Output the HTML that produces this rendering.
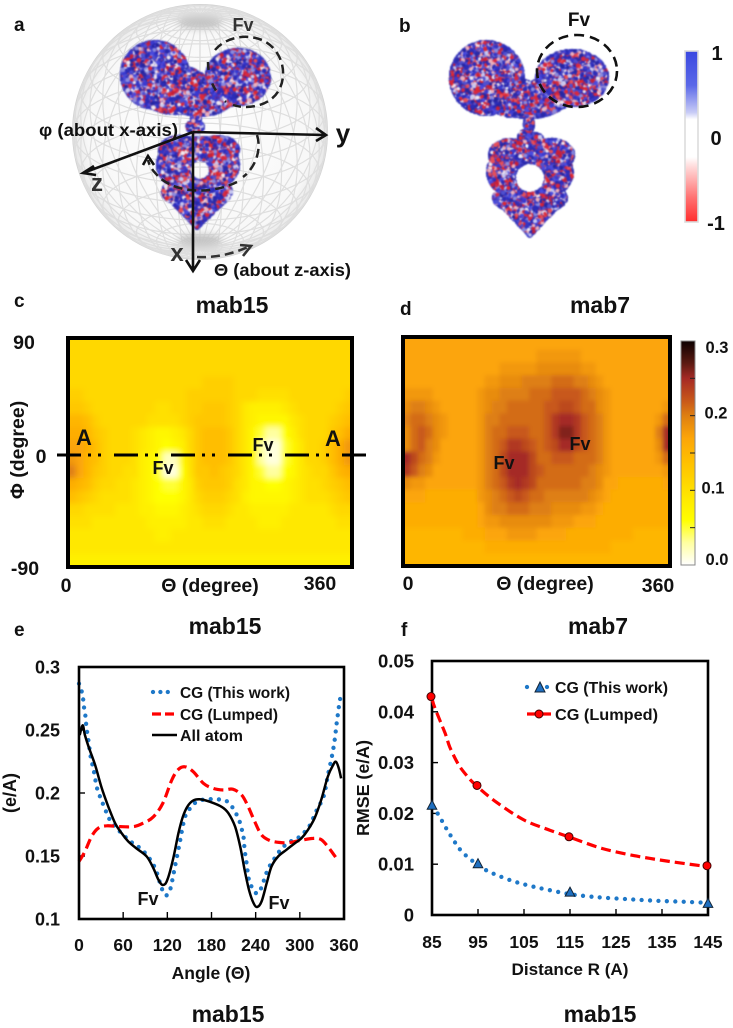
<!DOCTYPE html>
<html lang="en">
<head>
<meta charset="utf-8">
<title>Antibody electrostatics figure</title>
<style>
html,body{margin:0;padding:0;background:#fff;}
#wrap{position:relative;width:733px;height:1028px;overflow:hidden;background:#fff;font-family:"Liberation Sans",sans-serif;}
#wrap svg,#wrap canvas{position:absolute;left:0;top:0;}
#wrap canvas{filter:blur(.5px);}
text{font-family:"Liberation Sans",sans-serif;font-weight:bold;fill:#111;}
.t{font-size:23px;text-anchor:middle;}
.l{font-size:19.5px;}
.m{text-anchor:middle;}
.e{text-anchor:end;}
</style>
</head>
<body>
<div id="wrap">
<svg id="under" width="733" height="1028">
  <defs>
    <radialGradient id="sph" cx="50%" cy="50%" r="50%">
      <stop offset="0%" stop-color="#fdfdfd"/>
      <stop offset="88%" stop-color="#f8f8f8"/>
      <stop offset="100%" stop-color="#e8e8e8"/>
    </radialGradient>
    <filter id="soft" x="-50%" y="-100%" width="200%" height="300%"><feGaussianBlur stdDeviation="3.5"/></filter>
  </defs>
  <circle cx="200" cy="132" r="127" fill="url(#sph)" stroke="#d2d2d2" stroke-width="2"/>
  <g id="sphereGrid" fill="none" stroke="#dedede" stroke-width="1.2"></g>
  <ellipse cx="200" cy="23" rx="22" ry="6" fill="#c4c4c4" filter="url(#soft)"/>
  <ellipse cx="200" cy="240" rx="22" ry="6" fill="#c4c4c4" filter="url(#soft)"/>
</svg>
<canvas id="molA" width="733" height="300"></canvas>
<canvas id="molB" width="733" height="300"></canvas>
<svg id="top" width="733" height="1028">
  <defs>
    <filter id="bc" x="-5%" y="-5%" width="110%" height="110%"><feGaussianBlur stdDeviation="3"/></filter>
    <filter id="bd" x="-5%" y="-5%" width="110%" height="110%"><feGaussianBlur stdDeviation="2"/></filter>
    <clipPath id="clipC"><rect x="68" y="338" width="284" height="229"/></clipPath>
    <clipPath id="clipD"><rect x="403" y="337" width="267" height="229"/></clipPath>
    <linearGradient id="bGrad" x1="0" y1="0" x2="0" y2="1">
      <stop offset="0" stop-color="#3a48e0"/>
      <stop offset=".2" stop-color="#5a68e8"/>
      <stop offset=".36" stop-color="#c8ccf6"/>
      <stop offset=".4" stop-color="#ffffff"/>
      <stop offset=".62" stop-color="#ffffff"/>
      <stop offset=".68" stop-color="#ffd8d8"/>
      <stop offset=".86" stop-color="#ff7070"/>
      <stop offset="1" stop-color="#ff2d2d"/>
    </linearGradient>
    <linearGradient id="dGrad" x1="0" y1="1" x2="0" y2="0"></linearGradient>
  </defs>

  <!-- panel letters -->
  <text x="14" y="31" font-size="19">a</text>
  <text x="399" y="32" font-size="19">b</text>
  <text x="14" y="307" font-size="19">c</text>
  <text x="400" y="315" font-size="19">d</text>
  <text x="14" y="636" font-size="19">e</text>
  <text x="401" y="636" font-size="19">f</text>

  <!-- panel a annotations -->
  <g>
    <path d="M215 50 C225 38 245 33 262 40 C280 48 288 70 280 88 C272 106 248 110 233 105" fill="none" stroke="#222" stroke-width="2.5" stroke-dasharray="9 5"/>
    <path d="M208 62 C208 75 212 90 226 102" fill="none" stroke="#222" stroke-width="2.5" stroke-dasharray="8 14"/>
    <path d="M257 135 C262 150 255 168 243 177 M237 182 C215 193 180 195 160 178 C154 172 150 168 148 160" fill="none" stroke="#222" stroke-width="2.5" stroke-dasharray="9 5"/>
    <path d="M143 165 L148 156 L154 165" fill="none" stroke="#111" stroke-width="2.6"/>
    <path d="M197 257 C215 258 232 254 248 247" fill="none" stroke="#333" stroke-width="2.5" stroke-dasharray="9 5"/>
    <path d="M240 245 L251 246 L243 256" fill="none" stroke="#333" stroke-width="2.6"/>
    <path d="M193 132 L325 135 M316 128 L326 135 L316 141" fill="none" stroke="#111" stroke-width="2.6"/>
    <path d="M193 132 L83 173 M94 166 L83 173 L96 175" fill="none" stroke="#111" stroke-width="2.6"/>
    <path d="M193 132 L193 270 M186 260 L193 271 L200 260" fill="none" stroke="#111" stroke-width="2.6"/>
    <text x="243" y="31" font-size="18" class="m" style="fill:#333">Fv</text>
    <text x="39" y="136" font-size="17.5" textLength="139" lengthAdjust="spacingAndGlyphs">φ (about x-axis)</text>
    <text x="214" y="276" font-size="17.5" textLength="137" lengthAdjust="spacingAndGlyphs">Θ (about z-axis)</text>
    <text x="343" y="142" font-size="26" class="m">y</text>
    <text x="97" y="191" font-size="24" class="m" style="fill:#333">z</text>
    <text x="177" y="261" font-size="24" class="m" style="fill:#333">x</text>
  </g>

  <!-- panel b annotations -->
  <g>
    <ellipse cx="577" cy="71" rx="40" ry="36" fill="none" stroke="#111" stroke-width="2.6" stroke-dasharray="10 6"/>
    <text x="579" y="26" font-size="19" class="m">Fv</text>
    <rect x="685" y="51" width="13" height="171" fill="url(#bGrad)" stroke="#dcdcdc" stroke-width="1.6"/>
    <text x="717" y="60" font-size="20" class="m">1</text>
    <text x="716" y="145" font-size="20" class="m">0</text>
    <text x="716" y="230" font-size="20" class="m">-1</text>
  </g>

  <!-- panel c -->
  <g>
    <text x="232" y="313" class="t">mab15</text>
    <g clip-path="url(#clipC)"><rect x="68" y="338" width="284" height="229" fill="#ffd800"/><g id="cellsC" filter="url(#bc)"></g></g>
    <rect x="68" y="338" width="284" height="229" fill="none" stroke="#000" stroke-width="4"/>
    <line x1="57" y1="455" x2="366" y2="455" stroke="#000" stroke-width="3" stroke-dasharray="24 7 3 7 3 13"/>
    <text x="24" y="349" class="l m">90</text>
    <text x="41" y="463" class="l m">0</text>
    <text x="25" y="575" class="l m">-90</text>
    <text x="66" y="592" class="l m">0</text>
    <text x="320" y="590" class="l m">360</text>
    <text x="210" y="592" class="l m">Θ (degree)</text>
    <text transform="translate(24,450) rotate(-90)" class="l m">Φ (degree)</text>
    <text x="84" y="445" font-size="22" class="m">A</text>
    <text x="333" y="446" font-size="22" class="m">A</text>
    <text x="163" y="474" font-size="18" class="m">Fv</text>
    <text x="263" y="451" font-size="18" class="m">Fv</text>
  </g>

  <!-- panel d -->
  <g>
    <text x="600" y="313" class="t">mab7</text>
    <g clip-path="url(#clipD)"><rect x="403" y="337" width="267" height="229" fill="#fca508"/><g id="cellsD" filter="url(#bd)"></g></g>
    <rect x="403" y="337" width="267" height="229" fill="none" stroke="#000" stroke-width="4"/>
    <text x="408" y="590" class="l m">0</text>
    <text x="658" y="592" class="l m">360</text>
    <text x="545" y="590" class="l m">Θ (degree)</text>
    <text x="504" y="469" font-size="18" class="m">Fv</text>
    <text x="580" y="450" font-size="18" class="m">Fv</text>
    <rect x="681" y="341" width="14" height="224" fill="url(#dGrad)" stroke="#888" stroke-width="1"/>
    <g id="cbarTicks"></g>
  </g>

  <!-- panel e -->
  <g>
    <text x="225" y="634" class="t">mab15</text>
    <g id="plotE"></g>
    <rect x="79" y="667" width="265" height="252" fill="none" stroke="#000" stroke-width="2.6"/>
    <text x="211" y="979" font-size="17.5" class="m">Angle (Θ)</text>
    <text transform="translate(16,793) rotate(-90)" font-size="18" class="m">(e/A)</text>
    <text transform="translate(369,788) rotate(-90)" font-size="17.5" class="m" textLength="96" lengthAdjust="spacingAndGlyphs">RMSE (e/A)</text>
    <g>
      <line x1="153" y1="692" x2="174" y2="692" stroke="#1e78c8" stroke-width="4.3" stroke-linecap="round" stroke-dasharray="0 7.4"/>
      <line x1="152" y1="714" x2="175" y2="714" stroke="#f00" stroke-width="3.2" stroke-dasharray="9 4"/>
      <line x1="152" y1="735" x2="177" y2="735" stroke="#000" stroke-width="2.4"/>
      <text x="180" y="698" font-size="16" textLength="110" lengthAdjust="spacingAndGlyphs">CG (This work)</text>
      <text x="180" y="720" font-size="16" textLength="98" lengthAdjust="spacingAndGlyphs">CG (Lumped)</text>
      <text x="180" y="741" font-size="16" textLength="63" lengthAdjust="spacingAndGlyphs">All atom</text>
    </g>
    <text x="148" y="905" font-size="18" class="m">Fv</text>
    <text x="279" y="909" font-size="18" class="m">Fv</text>
  </g>

  <!-- panel f -->
  <g>
    <text x="598" y="634" class="t">mab7</text>
    <g id="plotF"></g>
    <text x="570" y="975" font-size="17" class="m" textLength="117" lengthAdjust="spacingAndGlyphs">Distance R (A)</text>
    <g>
      <line x1="527" y1="687" x2="550" y2="687" stroke="#1e78c8" stroke-width="4.3" stroke-linecap="round" stroke-dasharray="0 20"/>
      <polygon points="540,682 545,692 535,692" fill="#1f6fc0" stroke="#123" stroke-width="1"/>
      <line x1="527" y1="714" x2="551" y2="714" stroke="#f00" stroke-width="3.2"/>
      <circle cx="539" cy="714" r="4" fill="#f00" stroke="#400" stroke-width="1"/>
      <text x="555" y="693" font-size="16" textLength="113" lengthAdjust="spacingAndGlyphs">CG (This work)</text>
      <text x="555" y="720" font-size="16" textLength="103" lengthAdjust="spacingAndGlyphs">CG (Lumped)</text>
    </g>
  </g>

  <text x="228" y="1022" class="t">mab15</text>
  <text x="600" y="1022" class="t">mab15</text>
</svg>
</div>

<script>
/* ---------- heatmap data (units of 0.01 e/A), rows top to bottom ---------- */
var heatRowsC = [
[11,11,11,11,11,11,11,11,11,11,11,11,11,11,11,11,11,11,11,11,11,11,11,11,11,11,11,11,11,11,11,11,11,11,11,11],
[11,11,11,11,11,11,11,11,11,11,11,11,11,11,11,11,11,11,11,11,11,11,11,11,11,11,11,11,11,11,11,11,11,11,11,11],
[11,11,11,11,11,11,11,11,11,11,11,11,11,11,11,11,11,11,11,11,11,11,11,11,11,11,11,11,11,11,11,11,11,11,11,11],
[11,11,11,11,11,11,11,11,11,11,11,11,11,11,11,11,11,12,12,12,12,11,11,11,11,11,11,11,11,11,11,11,11,11,11,11],
[12,12,11,11,11,11,11,11,11,11,11,11,11,11,11,12,12,12,12,12,12,11,11,11,10,10,10,10,11,11,11,11,11,11,11,12],
[13,13,12,11,11,11,11,11,11,11,11,10,10,11,11,12,12,13,13,13,12,11,9,8,8,8,8,9,10,11,11,11,11,11,12,13],
[15,15,14,12,11,11,11,11,11,11,10,10,10,10,11,12,13,13,13,13,12,11,9,8,7,7,7,7,9,10,11,11,11,12,13,14],
[16,16,15,13,12,11,11,11,10,9,8,7,7,8,9,11,13,14,14,14,13,11,9,7,5,3,3,6,8,10,11,11,11,13,14,16],
[17,17,16,14,12,11,11,11,10,9,8,7,6,7,8,11,13,14,14,14,13,11,9,7,3,1,1,5,7,9,11,11,12,14,16,18],
[18,17,15,14,12,11,11,11,10,8,7,6,2,2,7,10,13,14,14,14,13,11,9,7,3,1,1,5,7,9,11,11,12,14,16,18],
[20,17,15,13,12,11,11,10,10,8,7,5,1,1,6,10,13,13,14,13,12,11,9,7,5,3,3,6,7,9,10,11,11,13,15,16],
[16,15,14,12,11,11,10,10,9,8,7,6,5,5,7,9,12,13,13,13,12,10,9,7,7,6,6,7,8,9,10,10,11,12,13,14],
[14,13,12,11,10,10,10,10,9,8,7,6,6,6,7,9,11,12,12,12,11,10,8,7,7,7,7,7,8,9,10,10,10,11,12,13],
[11,11,10,10,10,10,9,9,9,8,8,7,7,7,8,9,10,11,11,11,10,9,9,8,8,8,8,8,9,9,9,9,9,10,11,11],
[10,10,10,9,9,9,9,9,9,9,8,8,8,8,8,9,9,10,10,10,9,9,9,9,8,8,8,9,9,9,9,9,9,9,10,10],
[9,9,9,9,9,9,9,9,9,9,9,8,8,9,9,9,9,9,9,9,9,9,9,9,9,9,9,9,9,9,9,9,9,9,9,9],
[9,9,9,9,9,9,9,9,9,9,9,9,9,9,9,9,9,9,9,9,9,9,9,9,9,9,9,9,9,9,9,9,9,9,9,9],
[8,8,8,8,8,8,8,8,8,8,8,8,8,8,8,8,8,8,8,8,8,8,8,8,8,8,8,8,8,8,8,8,8,8,8,8]
];
var heatRowsD = [
[17,17,17,17,17,17,17,17,17,17,17,17,17,17,17,17,17,17,17,17,17,17,17,17,17,17,17,17,17,17,17,17,17,17,17,17],
[17,17,17,17,17,17,17,17,17,17,17,17,17,17,17,17,17,17,18,18,18,18,18,18,17,17,17,17,17,17,17,17,17,17,17,17],
[17,17,17,17,17,17,17,17,17,17,17,17,17,18,18,18,18,18,19,19,19,19,19,19,18,18,17,17,17,17,17,17,17,17,17,17],
[17,17,17,17,17,17,17,17,17,17,17,18,18,19,19,19,20,20,20,20,21,21,21,20,20,19,18,17,17,17,17,17,17,17,17,17],
[18,18,18,18,17,17,17,17,17,17,18,19,19,20,20,20,20,21,21,21,22,22,22,22,21,20,19,18,17,17,17,17,17,17,17,17],
[19,20,20,19,18,17,17,17,17,17,18,19,20,20,21,21,21,21,21,22,22,23,23,22,21,21,19,18,17,17,17,17,17,17,17,18],
[20,21,21,20,19,18,17,17,17,17,18,20,20,21,21,21,21,21,21,22,24,25,25,24,22,21,20,18,17,17,17,17,17,17,18,21],
[19,21,22,21,19,18,17,17,17,17,18,20,21,21,22,22,22,21,21,22,24,26,26,24,22,21,20,18,17,17,17,17,17,17,20,25],
[19,21,22,20,19,17,17,17,17,17,18,20,21,22,24,24,23,22,21,22,23,25,25,23,22,21,20,18,17,17,17,17,17,17,19,25],
[25,23,21,20,18,17,17,17,17,17,18,20,21,23,25,25,25,23,21,21,22,22,22,21,21,21,20,18,17,17,17,17,17,17,18,21],
[24,22,20,19,17,17,17,17,17,17,18,20,21,23,25,25,25,23,22,21,21,21,21,21,21,20,19,18,17,17,17,17,17,17,17,18],
[19,18,18,17,17,17,17,17,17,17,18,20,21,22,24,25,24,23,21,21,21,21,21,21,20,20,19,17,17,16,16,16,16,16,16,17],
[17,17,17,16,16,16,16,16,16,16,18,19,20,21,22,23,22,21,21,20,20,20,20,20,20,19,18,17,16,16,16,16,16,16,16,16],
[16,16,16,16,16,16,16,16,16,16,17,19,20,20,21,21,21,20,20,20,19,19,19,19,18,18,17,16,16,16,16,16,16,16,16,16],
[16,16,16,16,16,16,16,16,16,16,17,18,18,19,19,19,19,19,19,19,18,18,18,17,17,17,16,16,16,16,16,16,16,16,16,16],
[15,15,15,15,15,15,15,15,16,16,16,17,17,17,18,18,18,18,17,17,17,17,16,16,16,16,16,16,16,16,16,15,15,15,15,15],
[15,15,15,15,15,15,15,15,15,15,15,16,16,16,16,16,16,16,16,16,16,16,16,16,16,16,16,16,15,15,15,15,15,15,15,15],
[15,15,15,15,15,15,15,15,15,15,15,15,15,15,15,15,15,15,15,15,15,15,15,15,15,15,15,15,15,15,15,15,15,15,15,15]
];
var cmapValues = [0,3,6,10,14,17,20,22,25,27,30];
var cmapColors = ["#ffffff","#ffffa0","#ffff00","#ffe000","#ffbe00","#fca508","#de7f12","#c8581a","#a52a25","#5c1a12","#0c0000"];
var cbarTickValues = [0.05,0.1,0.15,0.2,0.25];
var cbarLabels = ["0.3","0.2","0.1","0.0"];
var cbarLabelValues = [0.3,0.2,0.1,0];

/* ---------- panel e data ---------- */
var eXTicks = [0,60,120,180,240,300,360];
var eYTicks = [0.1,0.15,0.2,0.25,0.3];
var eYLabels = ["0.1","0.15","0.2","0.25","0.3"];
var thetaThisWork = [0,4,6,7,9,10,13,15,17,20,24,28,32,37,42,49,58,67,76,85,93,100,106,112,118,124,129,136,140,144,148,154,164,175,188,200,208,214,219,222,224,225,228,231,238,244,249,253,257,263,270,277,286,298,307,314,323,330,334,338,343,347,350,353,355];
var valueThisWork = [.2868,.280,.273,.267,.26,.2525,.2406,.232,.2256,.218,.205,.198,.192,.185,.1786,.1733,.168,.163,.159,.1554,.150,.1443,.1364,.125,.1187,.1237,.1377,.158,.1707,.181,.185,.1905,.194,.195,.195,.1937,.189,.183,.176,.169,.163,.155,.143,.131,.122,.1206,.127,.1338,.14,.1456,.152,.157,.161,.1646,.1694,.1747,.1865,.194,.201,.2137,.2274,.2406,.255,.268,.2757];
var thetaLumped = [0,8,17,26,37.5,56,74,87,101,114,126,135,144,155,169,182,196,209,221,230,239,248,259,273,286,300,318,329,338,345,352];
var valueLumped = [.1456,.1536,.1654,.172,.174,.1733,.1733,.176,.181,.192,.2103,.2187,.2208,.217,.2077,.2037,.2024,.203,.1984,.189,.177,.1667,.1623,.1607,.1607,.1623,.164,.163,.1575,.152,.1464];
var thetaAllAtom = [1,5,8,13,22,31,40,49,58,67,78,92,101,108,114,120,128,135,141,147,155,164,178,194,203,212,219,225,231,237,242,248,255,261.5,270.5,282,293,302,311,320,329,338,345,349,353,356];
var valueAllAtom = [.246,.2538,.246,.2367,.222,.2037,.189,.176,.168,.1615,.156,.1496,.1404,.131,.127,.131,.148,.168,.181,.189,.194,.195,.193,.189,.184,.1733,.1575,.139,.123,.1127,.1095,.114,.1285,.1417,.1496,.155,.16,.164,.1707,.18,.1945,.213,.222,.2248,.2195,.2116];

/* ---------- panel f data ---------- */
var fXTicks = [85,95,105,115,125,135,145];
var fYTicks = [0,0.01,0.02,0.03,0.04,0.05];
var fYLabels = ["0","0.01","0.02","0.03","0.04","0.05"];
var markerR = [85,95,115,145];
var markerLumped = [0.043,0.0255,0.0154,0.0097];
var markerThisWork = [0.0215,0.0100,0.0044,0.0022];
var trendLumpedR = [85,85.6,87.8,88.9,90.7,92.5,94.6,99,105,110.6,115,122,129.5,137,145];
var trendLumpedV = [.0426,.0408,.0359,.033,.0297,.0275,.0255,.0222,.0187,.0167,.0153,.0131,.0116,.0105,.0095];
var trendThisWorkR = [85.2,86,87,88,89,90,91,92.5,94,95,97,99,102.5,106,110,115,118.7,122.3,128,134,140,144.5];
var trendThisWorkV = [.0213,.0203,.0188,.0172,.0157,.0143,.013,.0116,.0105,.0098,.0087,.0079,.0067,.0058,.005,.0041,.0037,.0034,.0031,.0028,.0026,.0024];

var NS = "http://www.w3.org/2000/svg";
function mk(tag, attrs, parent){
  var el = document.createElementNS(NS, tag);
  for (var k in attrs) el.setAttribute(k, attrs[k]);
  if (parent) parent.appendChild(el);
  return el;
}
function hexRgb(h){ return [parseInt(h.substr(1,2),16),parseInt(h.substr(3,2),16),parseInt(h.substr(5,2),16)]; }
function heatColor(v){
  var i = 0;
  while (i < cmapValues.length-2 && v > cmapValues[i+1]) i++;
  var t = Math.max(0, Math.min(1, (v-cmapValues[i])/(cmapValues[i+1]-cmapValues[i])));
  var a = hexRgb(cmapColors[i]), b = hexRgb(cmapColors[i+1]);
  return "rgb("+Math.round(a[0]+(b[0]-a[0])*t)+","+Math.round(a[1]+(b[1]-a[1])*t)+","+Math.round(a[2]+(b[2]-a[2])*t)+")";
}
function drawHeat(rows, parent, x0, y0, w, h, name){
  var nr = rows.length;
  rows.forEach(function(row, j){
    var nc = row.length;
    row.forEach(function(v, i){
      var cw = w/nc, ch = h/nr;
      var x = x0+i*cw, y = y0+j*ch, ww = cw+.6, hh = ch+.6;
      if (i===0){ x-=20; ww+=20; }
      if (i===nc-1){ ww+=20; }
      if (j===0){ y-=20; hh+=20; }
      if (j===nr-1){ hh+=20; }
      var r = mk("rect",{x:x,y:y,width:ww,height:hh,fill:heatColor(v)},parent);
      
      
    });
  });
}
drawHeat(heatRowsC, document.getElementById("cellsC"), 68, 338, 284, 229, "heatmap-c-cell");
drawHeat(heatRowsD, document.getElementById("cellsD"), 403, 337, 267, 229, "heatmap-d-cell");

/* colourbar of panel d */
var dGrad = document.getElementById("dGrad");
cmapValues.forEach(function(v,i){ mk("stop",{offset:v/30,"stop-color":cmapColors[i]},dGrad); });
function yCbar(v){ return 565 - v/0.3*224; }
var cbarG = document.getElementById("cbarTicks");
cbarTickValues.forEach(function(v){
  var t = mk("line",{x1:690,x2:695,y1:yCbar(v),y2:yCbar(v),stroke:"#222","stroke-width":1},cbarG);
  
  
});
cbarLabels.forEach(function(s,i){
  var v = cbarLabelValues[i];
  var yy = v===0.3 ? 353 : (v===0 ? 565 : yCbar(v)+3);
  var xx = v===0.1 ? 713 : (v===0.2 ? 716 : 717);
  var t = mk("text",{x:xx,y:yy,"font-size":16.5,"text-anchor":"middle"},cbarG);
  t.textContent = s;
  
  
});

/* smooth path */
function smooth(pts){
  var d = "M"+pts[0][0].toFixed(1)+" "+pts[0][1].toFixed(1);
  for (var i=0;i<pts.length-1;i++){
    var p0=pts[Math.max(0,i-1)],p1=pts[i],p2=pts[i+1],p3=pts[Math.min(pts.length-1,i+2)];
    var c1x=p1[0]+(p2[0]-p0[0])/6,c1y=p1[1]+(p2[1]-p0[1])/6,c2x=p2[0]-(p3[0]-p1[0])/6,c2y=p2[1]-(p3[1]-p1[1])/6;
    d+=" C"+c1x.toFixed(1)+" "+c1y.toFixed(1)+" "+c2x.toFixed(1)+" "+c2y.toFixed(1)+" "+p2[0].toFixed(1)+" "+p2[1].toFixed(1);
  }
  return d;
}
function zip(xs, ys, fx, fy){ return xs.map(function(x,i){ return [fx(x), fy(ys[i])]; }); }

/* ---------- panel e ---------- */
function xE(a){ return 79 + a/360*265; }
function yE(v){ return 919 - (v-0.1)/0.2*252; }
var gE = document.getElementById("plotE");
eXTicks.forEach(function(a){
  var tk = mk("line",{x1:xE(a),x2:xE(a),y1:919,y2:912,stroke:"#000","stroke-width":1.4},gE);
  
  
  var lb = mk("text",{x:xE(a),y:951,"font-size":17.5,"text-anchor":"middle"},gE);
  lb.textContent = a;
  
  
});
eYTicks.forEach(function(v,i){
  var tk = mk("line",{x1:79,x2:85,y1:yE(v),y2:yE(v),stroke:"#000","stroke-width":1.4},gE);
  
  
  var lb = mk("text",{x:60,y:yE(v)+6.5,"font-size":18,"text-anchor":"end"},gE);
  lb.textContent = eYLabels[i];
  
  
});
var lineA = mk("path",{d:smooth(zip(thetaThisWork,valueThisWork,xE,yE)),fill:"none",stroke:"#1e78c8","stroke-width":4.3,"stroke-linecap":"round","stroke-dasharray":"0 8.2"},gE);


var lineB = mk("path",{d:smooth(zip(thetaLumped,valueLumped,xE,yE)),fill:"none",stroke:"#f00","stroke-width":3.2,"stroke-dasharray":"10 5"},gE);


var lineC = mk("path",{d:smooth(zip(thetaAllAtom,valueAllAtom,xE,yE)),fill:"none",stroke:"#000","stroke-width":2.5},gE);



/* ---------- panel f ---------- */
function xF(r){ return 432 + (r-85)/60*276; }
function yF(v){ return 915 - v/0.05*254; }
var gF = document.getElementById("plotF");
var frameF = mk("rect",{x:432,y:661,width:276,height:254,fill:"none",stroke:"#000","stroke-width":2.6},gF);


fXTicks.forEach(function(r){
  var tk = mk("line",{x1:xF(r),x2:xF(r),y1:915,y2:909,stroke:"#000","stroke-width":1.4},gF);
  
  
  var lb = mk("text",{x:xF(r),y:948,"font-size":17.5,"text-anchor":"middle"},gF);
  lb.textContent = r;
  
  
});
fYTicks.forEach(function(v,i){
  var tk = mk("line",{x1:432,x2:438,y1:yF(v),y2:yF(v),stroke:"#000","stroke-width":1.4},gF);
  
  
  var lb = mk("text",{x:414,y:yF(v)+6.5,"font-size":18.5,"text-anchor":"end"},gF);
  lb.textContent = fYLabels[i];
  
  
});
var trendB = mk("path",{d:smooth(zip(trendThisWorkR,trendThisWorkV,xF,yF)),fill:"none",stroke:"#1e78c8","stroke-width":4.3,"stroke-linecap":"round","stroke-dasharray":"0 8.4"},gF);


var trendR = mk("path",{d:smooth(zip(trendLumpedR,trendLumpedV,xF,yF)),fill:"none",stroke:"#f00","stroke-width":3.2,"stroke-dasharray":"10 5"},gF);


markerR.forEach(function(r,i){
  var cx = xF(r) , cy = yF(markerThisWork[i]);
  var tri = mk("polygon",{points:(cx)+","+(cy-5.5)+" "+(cx+4.8)+","+(cy+3.5)+" "+(cx-4.8)+","+(cy+3.5),fill:"#1f6fc0",stroke:"#123","stroke-width":1},gF);
  
  
  var c = mk("circle",{cx:xF(r)-1,cy:yF(markerLumped[i]),r:4,fill:"#f00",stroke:"#400","stroke-width":1},gF);
  
  
});

/* ---------- sphere wireframe ---------- */
(function(){
  var g = document.getElementById("sphereGrid");
  var R = 127, cx = 200, cy = 132, tilt = 24*Math.PI/180;
  function proj(lat, lon){
    var x = R*Math.cos(lat)*Math.sin(lon), y0 = R*Math.sin(lat), z0 = R*Math.cos(lat)*Math.cos(lon);
    var y = y0*Math.cos(tilt) - z0*Math.sin(tilt);
    return (cx+x).toFixed(1)+","+(cy-y).toFixed(1);
  }
  function addLine(p){
    var l = mk("polyline",{points:p.join(" ")},g);
    
    
  }
  for (var m=0;m<36;m++){
    var lon = m*Math.PI/18, p=[];
    for (var a=-90;a<=90;a+=5) p.push(proj(a*Math.PI/180,lon));
    addLine(p);
  }
  for (var k=-80;k<=80;k+=10){
    var q=[];
    for (var b=0;b<=360;b+=6) q.push(proj(k*Math.PI/180,b*Math.PI/180));
    addLine(q);
  }
})();

/* ---------- molecular surface speckle ---------- */
function surface(canvasId, ell, tri, holes, seed, count, bbox){
  var ctx = document.getElementById(canvasId).getContext("2d");
  var s = seed;
  function rnd(){ s = (s*1664525+1013904223)%4294967296; return s/4294967296; }
  function inside(x,y){
    var i, hit=false;
    for (i=0;i<holes.length;i++){ var h=holes[i]; if ((x-h[0])*(x-h[0])+(y-h[1])*(y-h[1])<h[2]*h[2]) return false; }
    for (i=0;i<ell.length;i++){ var e=ell[i]; var dx=(x-e[0])/e[2],dy=(y-e[1])/e[3]; if (dx*dx+dy*dy<1){hit=true;break;} }
    if (!hit && tri){
      for (i=0;i<tri.length;i++){
        var T=tri[i];
        var d1=(x-T[2])*(T[1]-T[3])-(T[0]-T[2])*(y-T[3]);
        var d2=(x-T[4])*(T[3]-T[5])-(T[2]-T[4])*(y-T[5]);
        var d3=(x-T[0])*(T[5]-T[1])-(T[4]-T[0])*(y-T[1]);
        if (!((d1<0||d2<0||d3<0)&&(d1>0||d2>0||d3>0))){hit=true;break;}
      }
    }
    return hit;
  }
  var cols = ["#2c2cb8","#3a3ad0","#2626a0","#4a4ae0","#3434c4","#2c2cb8","#2a2aa8","#8a8ade","#c8c8f0","#f2e8ee","#e02830","#d82840","#e85058","#c82038","#ecb0bc","#5050d0"];
  var n, x, y;
  ctx.fillStyle = "#3636b8";
  for (n=0;n<count;n++){
    x = bbox[0]+rnd()*(bbox[2]-bbox[0]); y = bbox[1]+rnd()*(bbox[3]-bbox[1]);
    if (!inside(x,y)) continue;
    ctx.beginPath();
    ctx.arc(x,y,2.4,0,Math.PI*2);
    ctx.fill();
  }
  for (n=0;n<count*0.4;n++){
    x = bbox[0]+rnd()*(bbox[2]-bbox[0]); y = bbox[1]+rnd()*(bbox[3]-bbox[1]);
    if (!inside(x,y)) continue;
    ctx.fillStyle = cols[Math.floor(rnd()*cols.length)];
    ctx.beginPath();
    ctx.arc(x,y,1+rnd()*1.4,0,Math.PI*2);
    ctx.fill();
  }
}
surface("molA",
  [[155,75,33,33],[175,90,35,23],[238,77,31,27],[222,90,20,17],[200,100,30,15],[196,118,4,7],[195,127,8,5],
   [198,165,40,27],[180,150,20,13],[218,150,20,13],[197,192,34,15]],
  [[166,196,230,196,197,228]],
  [[200,170,11]], 12345, 45000, [115,38,280,232]);
surface("molB",
  [[487,78,36,36],[515,98,28,18],[572,78,35,27],[548,95,22,17],[530,104,30,13],[529,125,4,8],[525,137,6,6],[535,140,7,6],
   [530,172,42,29],[510,155,20,15],[552,155,21,15],[530,198,36,15]],
  [[496,200,564,200,530,236]],
  [[530,178,16],[527,146,4]], 98765, 45000, [450,38,610,238]);
</script>
</body>
</html>
